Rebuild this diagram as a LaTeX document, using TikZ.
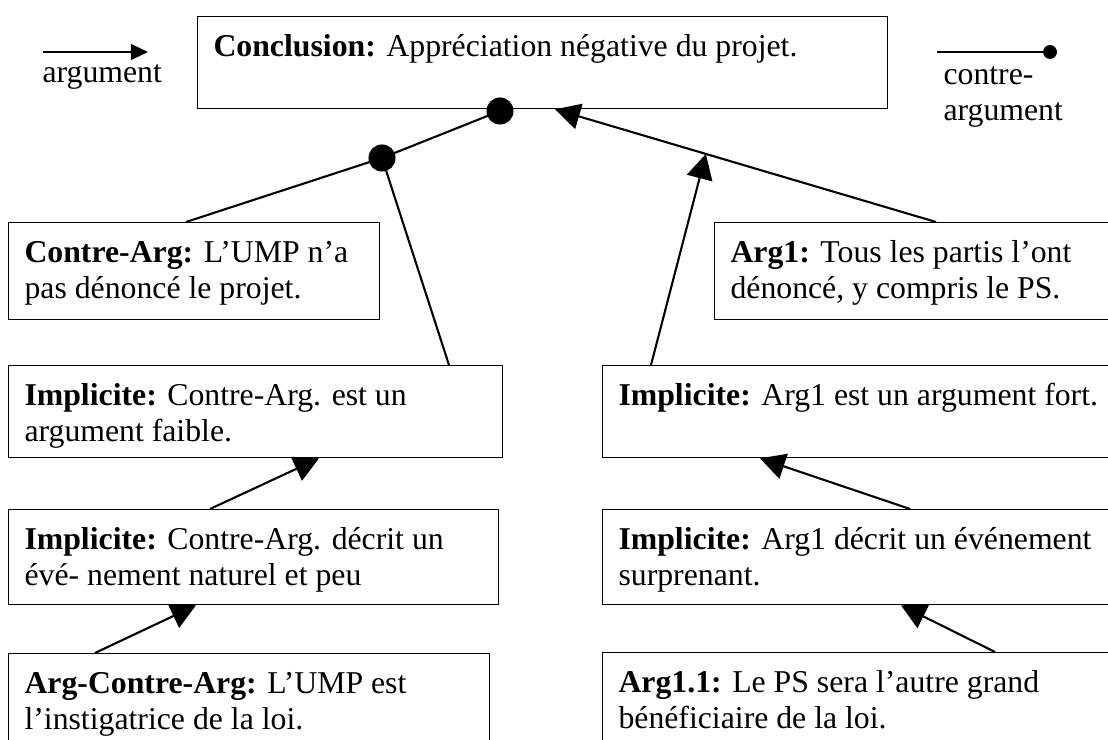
\documentclass[tikz,border=0pt]{standalone}
\usepackage{fontspec}
\setmainfont{Liberation Serif}
\usetikzlibrary{arrows.meta,calc}
\tikzset{
  argbox/.style 2 args={draw, line width=0.5pt, fill=white, anchor=north west, inner sep=0pt,
    minimum width=#1*0.381pt, minimum height=#2*0.381pt},
  txt/.style={anchor=north west, inner sep=0pt, align=left, font=\fontsize{12.1}{13.7}\selectfont},
  lgtxt/.style={anchor=base west, inner sep=0pt, font=\fontsize{12.1}{13.7}\selectfont},
  argline/.style={line width=0.8pt, -{Triangle[length=9.5pt,width=9.9pt]}},
  legarrow/.style={line width=0.8pt, -{Triangle[length=6.5pt,width=6pt]}},
  contra/.style={line width=0.8pt},
  bigdot/.style={circle, fill=black, inner sep=0pt, minimum size=10.3pt},
  smalldot/.style={circle, fill=black, inner sep=0pt, minimum size=5.3pt},
}
\begin{document}
\begin{tikzpicture}[x=0.381pt, y=-0.381pt]
\useasboundingbox (0,0) rectangle (1108,740);
\fill[white] (0,0) rectangle (1108,740);
\clip (0,0) rectangle (1108,740);

% legend
\coordinate (la) at (43,52);
\coordinate (lb) at (148,52);
\draw[legarrow] (la) -- (lb);
\node[lgtxt] (lgarg) at (42,83) {argument};
\coordinate (lc) at (937,52);
\node[smalldot] (ld) at (1050,52) {};
\draw[contra] (lc) -- (ld.center);
\node[txt] (lgcontra) at (943,59) {\strut contre-\\argument};

% boxes
\node[argbox={690}{92}] (concl) at (197,16) {};
\node[txt] (conclt) at (213,30.5) {\strut\textbf{Conclusion:} Appréciation négative du projet.};

\node[argbox={371}{97}] (ca) at (8,222) {};
\node[txt] (cat) at (24,237) {\strut\textbf{Contre-Arg:} L’UMP n’a\\pas dénoncé le projet.};

\node[argbox={430}{97}] (arg1) at (714,222) {};
\node[txt] (arg1t) at (730,237) {\strut\textbf{Arg1:} Tous les partis l’ont\\dénoncé, y compris le PS.};

\node[argbox={494}{92}] (il1) at (8,365) {};
\node[txt] (il1t) at (24,380) {\strut\textbf{Implicite:} Contre-Arg. est un\\argument faible.};

\node[argbox={540}{92}] (ir1) at (602,365) {};
\node[txt] (ir1t) at (618,380) {\strut\textbf{Implicite:} Arg1 est un argument fort.};

\node[argbox={490}{95}] (il2) at (8,509) {};
\node[txt] (il2t) at (24,524) {\strut\textbf{Implicite:} Contre-Arg. décrit un\\évé- nement naturel et peu};

\node[argbox={540}{95}] (ir2) at (602,509) {};
\node[txt] (ir2t) at (618,524) {\strut\textbf{Implicite:} Arg1 décrit un événement\\surprenant.};

\node[argbox={481}{130}] (aca) at (8,653) {};
\node[txt] (acat) at (24,668) {\strut\textbf{Arg-Contre-Arg:} L’UMP est\\l’instigatrice de la loi.};

\node[argbox={540}{130}] (a11) at (602,652) {};
\node[txt] (a11t) at (618,667) {\strut\textbf{Arg1.1:} Le PS sera l’autre grand\\bénéficiaire de la loi.};

% dots
\node[bigdot] (d1) at (500,111) {};
\node[bigdot] (d2) at (382,158) {};

% connectors
\draw[contra] ($(ca.north west)+(178,0)$) -- (d2.center) -- (d1.center);
\draw[contra] ($(il1.north west)+(441,0)$) -- (d2.center);

\coordinate (a1top) at ($(arg1.north west)+(222,0)$);
\coordinate (ctip) at ($(concl.south west)+(358,0)$);
\draw[argline] (a1top) -- (ctip);
\coordinate (mtip) at ($(a1top)!0.604!(ctip)$);
\draw[argline] ($(ir1.north west)+(49,0)$) -- (mtip);

\draw[argline] ($(il2.north west)+(202,0)$) -- ($(il1.south west)+(311,0)$);
\draw[argline] ($(aca.north west)+(87,0)$) -- ($(il2.south west)+(188,0)$);
\draw[argline] ($(ir2.north west)+(308,0)$) -- ($(ir1.south west)+(158,0)$);
\draw[argline] ($(a11.north west)+(393,0)$) -- ($(ir2.south west)+(299,0)$);
\end{tikzpicture}
\end{document}
